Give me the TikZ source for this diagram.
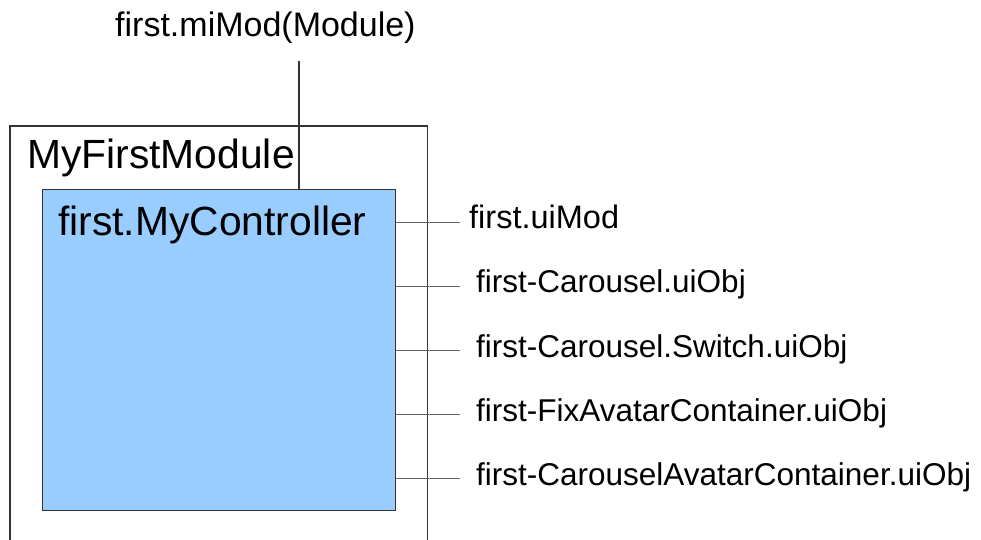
\documentclass[tikz,border=0pt]{standalone}
\usepackage{fontspec}
\setmainfont{Liberation Sans}
\definecolor{ctrlfill}{HTML}{99CCFF}
\definecolor{edge}{HTML}{333333}
\definecolor{stub}{HTML}{666666}
\begin{document}
\begin{tikzpicture}[x=1pt,y=-1pt,
  lbl/.style={anchor=base west,inner sep=0pt,font=\fontsize{31.5}{38}\selectfont},
  title/.style={anchor=base west,inner sep=0pt,font=\fontsize{40.8}{48}\selectfont},
  frame/.style={draw=edge,line width=1.1pt},
  link/.style={draw=stub,line width=1.1pt}]
\useasboundingbox (0,0) rectangle (981,539);

% module frame (open at the bottom)
\draw[frame] (10,545) -- (10,126) -- (427.5,126) -- (427.5,545);
\node[title] (modname) at (27,168) {MyFirstModule};

% controller box
\node[frame,fill=ctrlfill,rectangle,minimum width=353.3pt,minimum height=321.4pt,inner sep=0pt]
  (ctrl) at (218.7,350) {};
\node[title] (ctrlname) at (58,235) {first.MyController};

% module reference from above
\node[anchor=base west,inner sep=0pt,font=\fontsize{34}{40}\selectfont] (mimod) at (115,36) {first.miMod(Module)};
\coordinate (topend) at (299,61);
\draw[frame] (topend) -- (topend |- ctrl.north);

% exported names on the right
\coordinate (s1) at (460,222.5);
\coordinate (s2) at (460,286.5);
\coordinate (s3) at (460,350.5);
\coordinate (s4) at (460,414.5);
\coordinate (s5) at (460,478.5);
\foreach \s in {s1,s2,s3,s4,s5}
  \draw[link] (\s -| ctrl.east) -- (\s);

\node[lbl,font=\fontsize{32.5}{38}\selectfont] (l1) at (469,228) {first.uiMod};
\node[lbl] (l2) at (476,292) {first-Carousel.uiObj};
\node[lbl] (l3) at (476,357) {first-Carousel.Switch.uiObj};
\node[lbl] (l4) at (476,421) {first-FixAvatarContainer.uiObj};
\node[lbl] (l5) at (476,485) {first-CarouselAvatarContainer.uiObj};
\end{tikzpicture}
\end{document}
